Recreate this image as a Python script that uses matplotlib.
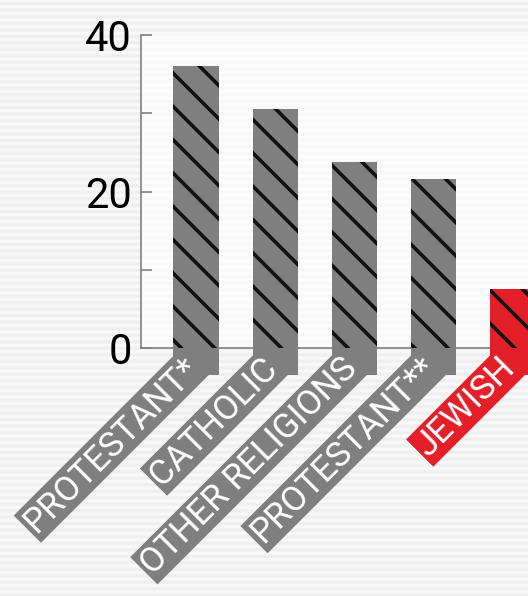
import numpy as np
import matplotlib
matplotlib.use("Agg")
import matplotlib.pyplot as plt

# data
categories = ["PROTESTANT*", "CATHOLIC", "OTHER RELIGIONS", "PROTESTANT**", "JEWISH"]
values = [36.1, 30.6, 23.8, 21.6, 7.5]
bar_colors = ["#7f7f7f", "#7f7f7f", "#7f7f7f", "#7f7f7f", "#e3202a"]
yticks = [0, 10, 20, 30, 40]
ytick_labels = ["0", "", "20", "", "40"]

plt.rcParams["font.family"] = ["Roboto", "DejaVu Sans"]
plt.rcParams["hatch.linewidth"] = 2.6

fig = plt.figure(figsize=(5.28, 5.96), dpi=100, facecolor="#f4f4f4")

# faint horizontal scan-line texture of the background
rows = np.arange(596)
shade = 0.958 + 0.022 * np.cos(2 * np.pi * rows / 6.5)
bg = np.repeat(shade[:, None], 528, axis=1)
fig.figimage(np.dstack([bg, bg, bg]), xo=0, yo=0, origin="upper", zorder=-10)

ax = fig.add_axes([0.267, 0.416, 0.733, 0.525])
ax.set_zorder(1)
ax.set_facecolor((1, 1, 1, 0.6))

x = np.arange(len(categories))
w = 0.57
ax.bar(x, values, width=w, color=bar_colors, edgecolor="#111111",
       linewidth=0, hatch="\\", zorder=3)
# short stub under each bar joining it to its label tag
ax.bar(x, [3.4] * len(x), bottom=-3.4, width=w, color=bar_colors,
       linewidth=0, zorder=2.8, clip_on=False)

for i, lab in enumerate(categories):
    ax.annotate(lab, xy=(x[i] - w / 2, 0), xytext=(20, -15),
                textcoords="offset pixels", rotation=45,
                rotation_mode="anchor", ha="right", va="center",
                fontsize=25, color="white", zorder=2.9,
                annotation_clip=False,
                bbox=dict(boxstyle="square,pad=0.08", fc=bar_colors[i],
                          ec="none"))

ax.set_xlim(-0.696, 4.2)
ax.set_ylim(0, 40)
ax.set_yticks(yticks)
ax.set_yticklabels(ytick_labels)
ax.set_xticks([])
ax.tick_params(axis="y", direction="in", length=8, width=1.2,
               color="#808080", labelsize=30, pad=6.5, labelcolor="black")

for s in ["top", "right"]:
    ax.spines[s].set_visible(False)
ax.spines["left"].set_color("#808080")
ax.spines["left"].set_linewidth(1.2)
ax.spines["bottom"].set_color("#808080")
ax.spines["bottom"].set_linewidth(1.2)

fig.savefig("out.png", dpi=100, facecolor=fig.get_facecolor())
